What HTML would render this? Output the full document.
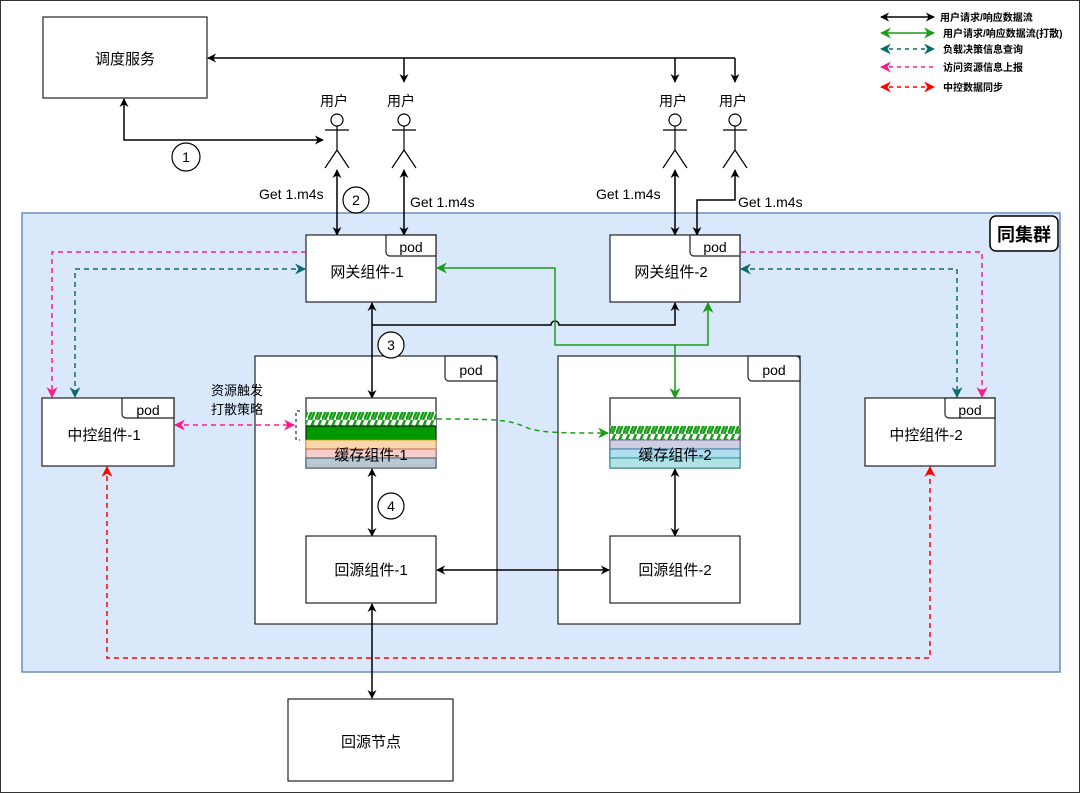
<!DOCTYPE html>
<html><head><meta charset="utf-8"><style>
html,body{margin:0;padding:0;background:#fff}
svg{display:block;font-family:"Liberation Sans","Noto Sans CJK SC",sans-serif}
</style></head><body>
<svg width="1080" height="793" viewBox="0 0 1080 793" xmlns="http://www.w3.org/2000/svg">
<defs>
<marker id="ak" viewBox="0 0 10 10" refX="9" refY="5" markerWidth="9" markerHeight="9" orient="auto-start-reverse" markerUnits="userSpaceOnUse"><path d="M0,0 L10,5 L0,10 L3,5z" fill="#000"/></marker>
<marker id="ag" viewBox="0 0 10 10" refX="9" refY="5" markerWidth="11" markerHeight="11" orient="auto-start-reverse" markerUnits="userSpaceOnUse"><path d="M0,0 L10,5 L0,10 L3,5z" fill="#1a9e1a"/></marker>
<marker id="at" viewBox="0 0 10 10" refX="9" refY="5" markerWidth="11" markerHeight="11" orient="auto-start-reverse" markerUnits="userSpaceOnUse"><path d="M0,0 L10,5 L0,10 L3,5z" fill="#0e6b6b"/></marker>
<marker id="ap" viewBox="0 0 10 10" refX="9" refY="5" markerWidth="11" markerHeight="11" orient="auto-start-reverse" markerUnits="userSpaceOnUse"><path d="M0,0 L10,5 L0,10 L3,5z" fill="#ff1a8c"/></marker>
<marker id="ar" viewBox="0 0 10 10" refX="9" refY="5" markerWidth="11" markerHeight="11" orient="auto-start-reverse" markerUnits="userSpaceOnUse"><path d="M0,0 L10,5 L0,10 L3,5z" fill="#ff0000"/></marker>
<pattern id="hat" width="7" height="14" patternUnits="userSpaceOnUse"><rect width="7" height="14" fill="#fff"/><path d="M0,14 L6,0 M3,14 L7,5" stroke="#1a9e1a" stroke-width="2.5"/></pattern>
</defs>
<rect x="0.5" y="0.5" width="1079" height="792" fill="#fff" stroke="#333"/>
<!-- cluster -->
<rect x="22" y="213" width="1038" height="459" fill="#dae8fc" stroke="#6c8ebf" stroke-width="1.5"/>
<rect x="990" y="216" width="68" height="35" rx="6" fill="#fff" stroke="#000" stroke-width="1.5"/>
<text x="1024" y="241" font-size="18" font-weight="bold" text-anchor="middle">同集群</text>
<!-- pods -->
<rect x="255" y="356" width="242" height="268" fill="#fff" stroke="#222" stroke-width="1.2"/>
<rect x="558" y="356" width="242" height="268" fill="#fff" stroke="#222" stroke-width="1.2"/>
<!-- scheduler -->
<rect x="43" y="17" width="164" height="81" fill="#fff" stroke="#222" stroke-width="1.2"/>
<text x="125" y="64" font-size="15" text-anchor="middle">调度服务</text>
<!-- red dashed (under black lines) -->
<path d="M107,467 V658 H930 V467" fill="none" stroke="#ff0000" stroke-width="1.5" stroke-dasharray="5,4" marker-start="url(#ar)" marker-end="url(#ar)"/>
<g stroke="#000" stroke-width="1.5" fill="none">
<path d="M735,58 H208" marker-end="url(#ak)"/>
<path d="M404,58 V82" marker-end="url(#ak)"/>
<path d="M675,58 V82" marker-end="url(#ak)"/>
<path d="M735,58 V82" marker-end="url(#ak)"/>
<path d="M124,99 V140 H323" marker-start="url(#ak)" marker-end="url(#ak)"/>
<path d="M337,170 V235" marker-start="url(#ak)" marker-end="url(#ak)"/>
<path d="M404,170 V235" marker-start="url(#ak)" marker-end="url(#ak)"/>
<path d="M675,170 V235" marker-start="url(#ak)" marker-end="url(#ak)"/>
<path d="M735,170 V200 H697 V235" marker-start="url(#ak)" marker-end="url(#ak)"/>
<path d="M372,303 V398" marker-start="url(#ak)" marker-end="url(#ak)"/>
<path d="M372,325 H551 a4,4 0 0 1 8,0 H675 V303" marker-end="url(#ak)"/>
<path d="M372,469 V536" marker-start="url(#ak)" marker-end="url(#ak)"/>
<path d="M437,570 H609" marker-start="url(#ak)" marker-end="url(#ak)"/>
<path d="M675,469 V536" marker-start="url(#ak)" marker-end="url(#ak)"/>
<path d="M372,604 V698" marker-start="url(#ak)" marker-end="url(#ak)"/>
</g>
<!-- actors -->
<g stroke="#000" stroke-width="1.2" fill="#fff">
<g transform="translate(337,0)"><circle cx="0" cy="120" r="6"/><path d="M0,126 V150 M-12,130 H12 M-12,168 L0,150 L12,168" fill="none"/></g>
<g transform="translate(404,0)"><circle cx="0" cy="120" r="6"/><path d="M0,126 V150 M-12,130 H12 M-12,168 L0,150 L12,168" fill="none"/></g>
<g transform="translate(675,0)"><circle cx="0" cy="120" r="6"/><path d="M0,126 V150 M-12,130 H12 M-12,168 L0,150 L12,168" fill="none"/></g>
<g transform="translate(735,0)"><circle cx="0" cy="120" r="6"/><path d="M0,126 V150 M-12,130 H12 M-12,168 L0,150 L12,168" fill="none"/></g>
</g>
<g font-size="14" text-anchor="middle"><text x="334" y="106">用户</text><text x="401" y="106">用户</text><text x="673" y="106">用户</text><text x="733" y="106">用户</text></g>
<g font-size="14"><text x="259" y="199">Get 1.m4s</text><text x="410" y="207">Get 1.m4s</text><text x="596" y="199">Get 1.m4s</text><text x="738" y="207">Get 1.m4s</text></g>
<g stroke="#000" stroke-width="1.2" fill="#fff">
<circle cx="186" cy="157" r="14"/><circle cx="356" cy="200" r="13"/><circle cx="391" cy="345" r="13"/><circle cx="391" cy="506" r="13"/>
</g>
<g font-size="14" text-anchor="middle"><text x="186" y="162">1</text><text x="356" y="205">2</text><text x="391" y="350">3</text><text x="391" y="511">4</text></g>
<!-- boxes -->
<g fill="#fff" stroke="#222" stroke-width="1.2">
<rect x="306" y="235" width="130" height="67"/>
<rect x="610" y="235" width="130" height="67"/>
<rect x="42" y="398" width="132" height="68"/>
<rect x="865" y="398" width="130" height="68"/>
<rect x="306" y="536" width="130" height="67"/>
<rect x="610" y="536" width="130" height="67"/>
<rect x="288" y="699" width="165" height="82"/>
<path d="M445,356 H493 a4,4 0 0 1 4,4 V381 H449 a4,4 0 0 1 -4,-4z"/>
<path d="M748,356 H796 a4,4 0 0 1 4,4 V381 H752 a4,4 0 0 1 -4,-4z"/>
<path d="M386,235 H436 V256 H390 a4,4 0 0 1 -4,-4z"/>
<path d="M690,235 H740 V256 H694 a4,4 0 0 1 -4,-4z"/>
<path d="M122,398 H174 V418 H126 a4,4 0 0 1 -4,-4z"/>
<path d="M945,398 H995 V418 H949 a4,4 0 0 1 -4,-4z"/>
</g>
<g font-size="14" text-anchor="middle">
<text x="471" y="375">pod</text><text x="774" y="375">pod</text>
<text x="411" y="252">pod</text><text x="715" y="252">pod</text>
<text x="148" y="415">pod</text><text x="970" y="415">pod</text>
</g>
<g font-size="15" text-anchor="middle">
<text x="367" y="277">网关组件-1</text><text x="671" y="277">网关组件-2</text>
<text x="104" y="440">中控组件-1</text><text x="926" y="440">中控组件-2</text>
<text x="371" y="575">回源组件-1</text><text x="675" y="575">回源组件-2</text>
<text x="371" y="747">回源节点</text>
</g>
<!-- cache 1 -->
<rect x="306" y="398" width="130" height="70" fill="#fff" stroke="#222" stroke-width="1.2"/>
<rect x="306" y="412" width="130" height="14" fill="url(#hat)"/>
<rect x="306" y="426" width="130" height="14" fill="#009900" stroke="#111"/>
<rect x="306" y="440" width="130" height="9" fill="#fad7ac" stroke="#d79b00" stroke-width="0.8"/>
<rect x="306" y="449" width="130" height="9" fill="#f8cecc" stroke="#b85450" stroke-width="0.8"/>
<rect x="306" y="458" width="130" height="10" fill="#bac8d3" stroke="#23445d" stroke-width="0.8"/>
<text x="371" y="460" font-size="15" text-anchor="middle">缓存组件-1</text>
<!-- cache 2 -->
<rect x="610" y="398" width="130" height="70" fill="#fff" stroke="#222" stroke-width="1.2"/>
<rect x="610" y="426" width="130" height="14" fill="url(#hat)"/>
<rect x="610" y="440" width="130" height="9" fill="#d0cee2" stroke="#56517e" stroke-width="0.8"/>
<rect x="610" y="449" width="130" height="9" fill="#b1ddf0" stroke="#10739e" stroke-width="0.8"/>
<rect x="610" y="458" width="130" height="10" fill="#b0e3e6" stroke="#0e8088" stroke-width="0.8"/>
<text x="675" y="460" font-size="15" text-anchor="middle">缓存组件-2</text>
<!-- bracket -->
<path d="M300,411 H296 V440 H300" fill="none" stroke="#000" stroke-dasharray="3,3"/>
<text x="237" y="395" font-size="13" text-anchor="middle">资源触发</text>
<text x="237" y="414" font-size="13" text-anchor="middle">打散策略</text>
<!-- green -->
<g stroke="#1a9e1a" stroke-width="1.5" fill="none">
<path d="M675,398 V345 H555 V268 H437" marker-start="url(#ag)" marker-end="url(#ag)"/>
<path d="M675,345 H708 V303" marker-end="url(#ag)"/>
<path d="M437,419 C500,419 510,420 525,427 C540,433 560,433 608,433" stroke-dasharray="5,4" marker-end="url(#ag)"/>
</g>
<!-- dashed -->
<g fill="none" stroke-width="1.5" stroke-dasharray="5,4">
<path d="M306,252 H52 V397" stroke="#ff1a8c" marker-end="url(#ap)"/>
<path d="M305,269 H75 V397" stroke="#0e6b6b" marker-start="url(#at)" marker-end="url(#at)"/>
<path d="M741,252 H982 V397" stroke="#ff1a8c" marker-end="url(#ap)"/>
<path d="M741,269 H957 V397" stroke="#0e6b6b" marker-start="url(#at)" marker-end="url(#at)"/>
<path d="M175,425 H294" stroke="#ff1a8c" marker-start="url(#ap)" marker-end="url(#ap)"/>
</g>
<!-- legend -->
<g stroke-width="1.5" fill="none">
<path d="M881,17 H934" stroke="#000" marker-start="url(#ak)" marker-end="url(#ak)"/>
<path d="M881,33 H934" stroke="#1a9e1a" marker-start="url(#ag)" marker-end="url(#ag)"/>
<path d="M881,49 H934" stroke="#0e6b6b" stroke-dasharray="4,4" marker-start="url(#at)" marker-end="url(#at)"/>
<path d="M881,67 H934" stroke="#ff1a8c" stroke-dasharray="4,4" marker-start="url(#ap)"/>
<path d="M881,87 H934" stroke="#ff0000" stroke-dasharray="4,4" marker-start="url(#ar)" marker-end="url(#ar)"/>
</g>
<g font-size="10" font-weight="bold">
<text x="940" y="21">用户请求/响应数据流</text>
<text x="943" y="37">用户请求/响应数据流(打散)</text>
<text x="943" y="53">负载决策信息查询</text>
<text x="943" y="71">访问资源信息上报</text>
<text x="943" y="91">中控数据同步</text>
</g>
</svg>
</body></html>
